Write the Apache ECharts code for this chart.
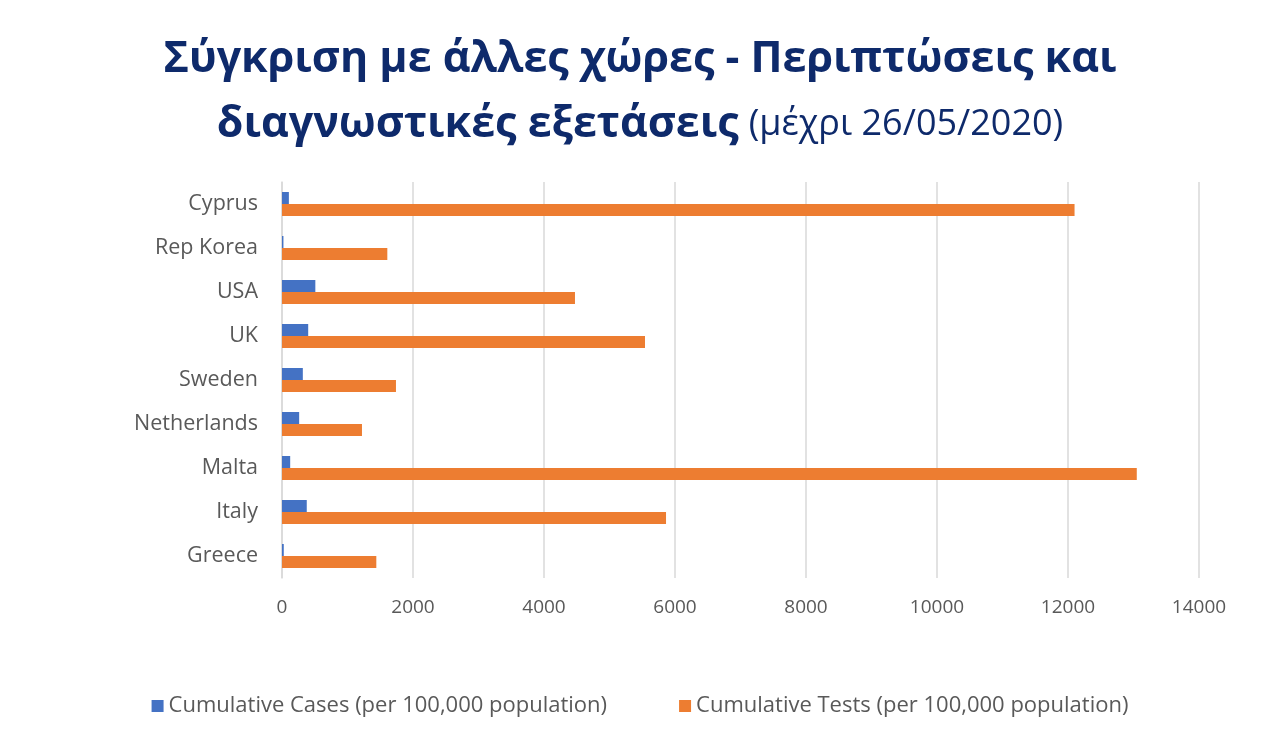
<!DOCTYPE html>
<html>
<head>
<meta charset="utf-8">
<script src="https://cdn.jsdelivr.net/npm/echarts@6/dist/echarts.min.js"></script>
<style>
  html, body { margin: 0; padding: 0; background: #fff; }
  #chart { width: 1280px; height: 749px; }
</style>
</head>
<body>
<div id="chart"></div>
<script>
/* 国家 */
var countries = ['Cyprus', 'Rep Korea', 'USA', 'UK', 'Sweden', 'Netherlands', 'Malta', 'Italy', 'Greece'];
/* 病例 per 100,000 */
var casesData = [105, 22, 509, 400, 318, 262, 125, 378, 27];
/* 检测 per 100,000 */
var testsData = [12100, 1608, 4473, 5542, 1740, 1221, 13050, 5863, 1440];
var xTicks = [0, 2000, 4000, 6000, 8000, 10000, 12000, 14000];

var myChart = echarts.init(document.getElementById('chart'));

var titleColor = '#0e2a6b';

var option = {
  backgroundColor: '#fff',
  title: [
    {
      text: 'Σύγκριση με άλλες χώρες - Περιπτώσεις και',
      left: 'center',
      top: 33,
      textStyle: {
        fontFamily: 'Open Sans',
        fontWeight: 'bold',
        fontSize: 43,
        color: titleColor
      }
    },
    {
      text: '{b|διαγνωστικές εξετάσεις}  {n|(μέχρι 26/05/2020)}',
      left: 'center',
      top: 92,
      textStyle: {
        rich: {
          b: {
            fontFamily: 'Open Sans',
            fontWeight: 'bold',
            fontSize: 43,
            color: titleColor,
            lineHeight: 56
          },
          n: {
            fontFamily: 'Open Sans',
            fontWeight: 'normal',
            fontSize: 36,
            color: titleColor,
            lineHeight: 56
          }
        }
      }
    }
  ],
  legend: {
    bottom: 27,
    left: 'center',
    itemGap: 72,
    itemWidth: 12,
    itemHeight: 12,
    icon: 'rect',
    textStyle: {
      fontFamily: 'Open Sans',
      fontSize: 22,
      color: '#595959'
    },
    data: ['Cumulative Cases (per 100,000 population)', 'Cumulative Tests (per 100,000 population)']
  },
  grid: {
    left: 282,
    right: 81,
    top: 182,
    bottom: 171,
    containLabel: false
  },
  xAxis: {
    type: 'value',
    min: xTicks[0],
    max: xTicks[xTicks.length - 1],
    interval: 2000,
    axisLine: { show: false },
    axisTick: { show: false },
    axisLabel: {
      margin: 20,
      fontFamily: 'Open Sans',
      fontSize: 19,
      color: '#595959',
      formatter: function (v) { return String(v); }
    },
    splitLine: {
      show: true,
      lineStyle: { color: '#d9d9d9', width: 1.5 }
    }
  },
  yAxis: {
    type: 'category',
    inverse: true,
    data: countries,
    axisLine: { show: true, lineStyle: { color: '#d9d9d9', width: 1.5 } },
    axisTick: { show: false },
    axisLabel: {
      margin: 24,
      fontFamily: 'Open Sans',
      fontSize: 21.5,
      color: '#595959'
    }
  },
  series: [
    {
      name: 'Cumulative Cases (per 100,000 population)',
      type: 'bar',
      data: casesData,
      barWidth: 12,
      barGap: '0%',
      itemStyle: { color: '#4472c4' }
    },
    {
      name: 'Cumulative Tests (per 100,000 population)',
      type: 'bar',
      data: testsData,
      barWidth: 12,
      barGap: '0%',
      itemStyle: { color: '#ed7d31' }
    }
  ],
  animation: false
};
myChart.setOption(option);
</script>
</body>
</html>
